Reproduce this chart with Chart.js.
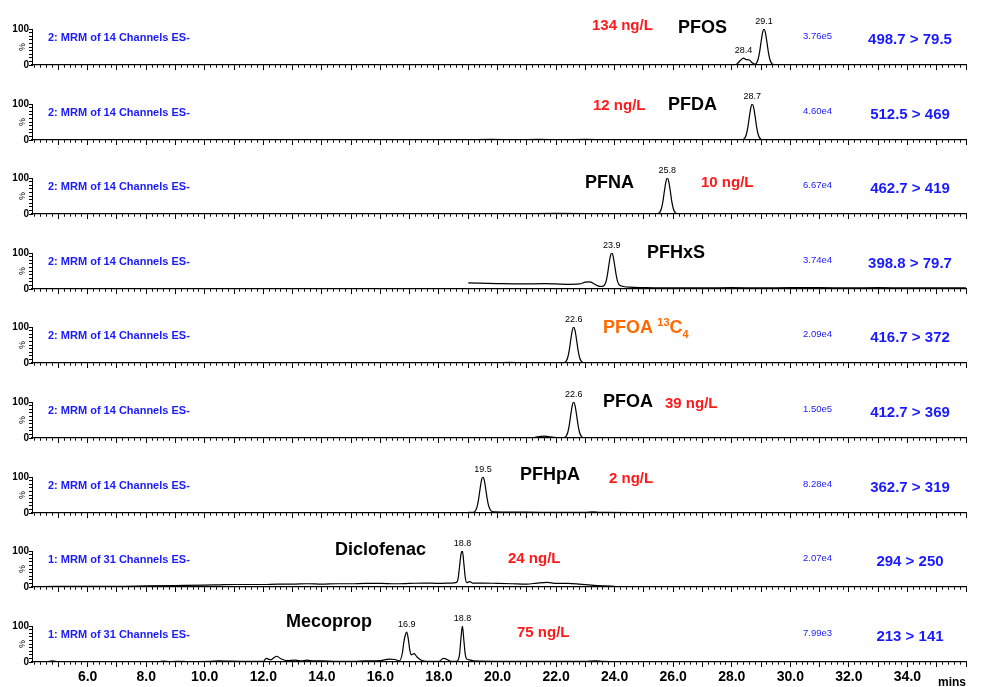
<!DOCTYPE html>
<html>
<head>
<meta charset="utf-8">
<title>MRM chromatograms</title>
<script src="https://cdn.jsdelivr.net/npm/chart.js@4.4.1/dist/chart.umd.min.js"></script>
<style>
  body { margin: 0; background: #fff; }
  #page { position: relative; width: 986px; height: 687px; overflow: hidden; font-family: "Liberation Sans", Arial, sans-serif; }
  #page canvas { position: absolute; left: 0; }
  .lbl { position: absolute; white-space: nowrap; font-weight: bold; line-height: 1; transform: translateY(-50%); }
  .chan { font-size: 11px; color: #1a1aff; }
  .cmpd { font-size: 18px; color: #000; }
  .iso { color: #ff6a00; }
  .iso sup, .iso sub { font-size: 11px; line-height: 0; }
  .conc { font-size: 15px; color: #ff1a1a; }
  .inten { font-size: 9.5px; font-weight: normal; color: #1a1aff; }
  .trans { font-size: 15px; color: #1a1aff; transform: translate(-50%, -50%); }
  .unit { font-size: 12px; color: #000; }
</style>
</head>
<body>
<div id="page"></div>
<script>
// ---- data -------------------------------------------------------------
// retention time (min) / relative signal (%) for each transition
const pfosTime   = [19.0, 28.0, 28.15, 28.25, 28.35, 28.4, 28.5, 28.6, 28.7, 28.8, 28.85, 28.9, 28.95, 29.0, 29.05, 29.1, 29.15, 29.2, 29.25, 29.3, 29.35, 29.4, 29.5, 36.0];
const pfosSignal = [0, 0, 1, 9, 17, 19, 15, 14, 6, 2, 6, 16, 36, 64, 89, 100, 89, 64, 36, 16, 6, 2, 0.5, 0];

const pfdaTime   = [19.0, 19.8, 20.6, 21.4, 22.2, 23.0, 23.6, 24.2, 28.3, 28.35, 28.4, 28.45, 28.5, 28.55, 28.6, 28.65, 28.7, 28.75, 28.8, 28.85, 28.9, 28.95, 29.0, 29.05, 29.15, 36.0];
const pfdaSignal = [1, 1.5, 1, 1.5, 1, 1.5, 1, 0.5, 0, 0.5, 2, 6, 16, 36, 64, 89, 100, 89, 64, 36, 16, 6, 2, 0.5, 0, 0];

const pfnaTime   = [19.0, 20.5, 22.0, 23.5, 24.5, 25.4, 25.45, 25.5, 25.55, 25.6, 25.65, 25.7, 25.75, 25.8, 25.85, 25.9, 25.95, 26.0, 26.05, 26.1, 26.15, 26.25, 36.0];
const pfnaSignal = [1, 1, 1.5, 1, 0.5, 0, 0.5, 2, 6, 16, 36, 64, 89, 100, 89, 64, 36, 16, 6, 2, 0.5, 0, 0];

const pfhxsTime   = [19.0, 20.0, 20.8, 21.6, 22.4, 22.8, 23.0, 23.15, 23.3, 23.45, 23.55, 23.6, 23.65, 23.7, 23.75, 23.8, 23.85, 23.9, 23.95, 24.0, 24.05, 24.1, 24.15, 24.2, 24.3, 24.5, 25.0, 26.0, 27.0, 28.0, 29.0, 30.0, 31.0, 32.0, 33.0, 34.0, 35.0, 36.0];
const pfhxsSignal = [17, 15, 14, 15, 13, 14, 19, 20, 14, 8, 7, 8, 11, 19, 38, 65, 90, 100, 90, 66, 40, 21, 12, 9, 7, 5, 4, 3, 3, 4, 3, 4, 4, 3, 4, 3, 3, 3];

const pfoaIsTime   = [19.0, 20.0, 20.4, 20.8, 22.2, 22.25, 22.3, 22.35, 22.4, 22.45, 22.5, 22.55, 22.6, 22.65, 22.7, 22.75, 22.8, 22.85, 22.9, 22.95, 23.05, 24.0, 24.3, 24.6, 36.0];
const pfoaIsSignal = [0.5, 0.5, 1.5, 0.5, 0, 0.5, 2, 6, 16, 36, 64, 89, 100, 89, 64, 36, 16, 6, 2, 0.5, 0, 0, 1, 0, 0];

const pfoaTime   = [19.0, 20.5, 21.2, 21.4, 21.6, 21.8, 22.0, 22.2, 22.25, 22.3, 22.35, 22.4, 22.45, 22.5, 22.55, 22.6, 22.65, 22.7, 22.75, 22.8, 22.85, 22.9, 22.95, 23.05, 36.0];
const pfoaSignal = [0.5, 0.5, 1, 4, 5, 3, 1, 0, 0.5, 2, 6, 16, 36, 64, 89, 100, 89, 64, 36, 16, 6, 2, 0.5, 0, 0];

const pfhpaTime   = [19.0, 19.15, 19.2, 19.25, 19.3, 19.35, 19.4, 19.45, 19.5, 19.55, 19.6, 19.65, 19.7, 19.75, 19.8, 19.9, 20.5, 21.5, 22.5, 23.0, 23.25, 23.5, 23.8, 25.0, 27.0, 36.0];
const pfhpaSignal = [2, 2, 3, 7, 17, 37, 65, 90, 100, 90, 65, 38, 19, 9, 5, 3, 2.5, 2, 2, 2, 3.5, 2, 1.5, 1, 0.5, 0];

const diclofenacTime   = [4.1, 5.0, 6.0, 7.0, 8.0, 9.0, 10.0, 10.5, 11.0, 12.0, 12.5, 13.0, 13.5, 14.0, 14.5, 15.0, 15.5, 16.0, 16.5, 17.0, 17.5, 18.0, 18.4, 18.6, 18.65, 18.7, 18.75, 18.8, 18.85, 18.9, 18.95, 19.05, 19.15, 19.5, 20.0, 20.5, 21.0, 21.35, 21.7, 22.0, 22.4, 22.8, 23.2, 23.6, 24.0];
const diclofenacSignal = [1, 1.5, 2, 2, 3, 4, 5, 6, 7, 7, 8, 8, 9, 8, 9, 9, 10, 10, 9, 10, 11, 10, 11, 13, 22, 55, 90, 100, 65, 25, 12, 15, 11, 11, 10, 9, 8, 11, 13, 10, 10, 8, 5, 3, 2];

const mecopropTime   = [4.1, 4.6, 4.8, 5.0, 6.5, 8.4, 8.6, 8.8, 9.2, 9.4, 10.2, 10.5, 10.8, 11.2, 11.6, 12.0, 12.1, 12.25, 12.45, 12.6, 12.8, 13.1, 13.3, 13.5, 13.7, 14.0, 14.5, 15.0, 15.5, 16.0, 16.3, 16.5, 16.65, 16.75, 16.8, 16.85, 16.9, 16.95, 17.0, 17.05, 17.15, 17.25, 17.4, 17.6, 18.0, 18.15, 18.25, 18.4, 18.6, 18.7, 18.75, 18.8, 18.85, 18.9, 18.95, 19.05, 19.2, 20.0, 21.0, 22.0, 23.0, 23.35, 23.6, 24.0];
const mecopropSignal = [1, 1, 3, 1, 1, 1, 2.5, 1, 2, 1, 2, 3, 2.5, 2, 2, 2, 10, 6, 16, 9, 4, 5, 3, 5, 3, 3, 2, 2, 3, 4, 8, 7, 3, 25, 55, 75, 83, 65, 35, 20, 23, 14, 5, 2, 2, 10, 8, 2, 2, 20, 65, 100, 60, 20, 8, 6, 3, 2, 1.5, 1.5, 2, 3.5, 1.5, 1];

// labelled apex times per trace
const peakTimes = [[28.4, 29.1], [28.7], [25.8], [23.9], [22.6], [22.6], [19.5], [18.8], [16.9, 18.8]];

const channels = Array(7).fill('2: MRM of 14 Channels ES-').concat(Array(2).fill('1: MRM of 31 Channels ES-'));
const compounds = ['PFOS', 'PFDA', 'PFNA', 'PFHxS', 'PFOA <sup>13</sup>C<sub>4</sub>', 'PFOA', 'PFHpA', 'Diclofenac', 'Mecoprop'];
const concentrations = ['134 ng/L', '12 ng/L', '10 ng/L', '', '', '39 ng/L', '2 ng/L', '24 ng/L', '75 ng/L'];
const intensities = ['3.76e5', '4.60e4', '6.67e4', '3.74e4', '2.09e4', '1.50e5', '8.28e4', '2.07e4', '7.99e3'];
const transitions = ['498.7 > 79.5', '512.5 > 469', '462.7 > 419', '398.8 > 79.7', '416.7 > 372', '412.7 > 369', '362.7 > 319', '294 > 250', '213 > 141'];

const xTickLabels = [6, 8, 10, 12, 14, 16, 18, 20, 22, 24, 26, 28, 30, 32, 34];
const yTickLabels = [0, 100];

// ---- layout -----------------------------------------------------------
const baselines = [65, 140, 214, 289, 363, 438, 513, 587, 662];
const compoundPos = [[678, 27], [668, 104], [585, 182], [647, 252], [603, 327], [603, 401], [520, 474], [335, 549], [286, 621]];
const concPos = [[592, 24], [593, 104], [701, 181], null, null, [665, 402], [609, 477], [508, 557], [517, 631]];

const traces = [
  [pfosTime, pfosSignal], [pfdaTime, pfdaSignal], [pfnaTime, pfnaSignal],
  [pfhxsTime, pfhxsSignal], [pfoaIsTime, pfoaIsSignal], [pfoaTime, pfoaSignal],
  [pfhpaTime, pfhpaSignal], [diclofenacTime, diclofenacSignal], [mecopropTime, mecopropSignal]
];

Chart.defaults.font.family = '"Liberation Sans", Arial, sans-serif';
Chart.defaults.color = '#000';

const page = document.getElementById('page');
const isWhole = v => Math.abs(v - Math.round(v)) < 1e-6;

// retention time written just above each labelled apex
const peakLabelPlugin = {
  id: 'peakLabels',
  afterDatasetsDraw(chart, args, opts) {
    const { ctx, scales: { x, y } } = chart;
    const pts = chart.data.datasets[0].data;
    ctx.save();
    ctx.font = '9px "Liberation Sans", Arial, sans-serif';
    ctx.fillStyle = '#000';
    ctx.textAlign = 'center';
    ctx.textBaseline = 'bottom';
    (opts.peaks || []).forEach(t => {
      const p = pts.find(d => d.x === t);
      ctx.fillText(t.toFixed(1), x.getPixelForValue(t), y.getPixelForValue(p.y) - 3);
    });
    ctx.restore();
  }
};

traces.forEach(([time, signal], i) => {
  const last = i === traces.length - 1;
  const canvas = document.createElement('canvas');
  canvas.width = 986;
  canvas.height = last ? 85 : 80;
  canvas.style.top = (baselines[i] - 60) + 'px';
  page.appendChild(canvas);

  new Chart(canvas, {
    type: 'line',
    data: {
      datasets: [{
        data: time.map((t, k) => ({ x: t, y: signal[k] })),
        borderColor: '#000',
        borderWidth: 1.2,
        pointRadius: 0,
        fill: false,
        cubicInterpolationMode: 'monotone'
      }]
    },
    options: {
      responsive: false,
      animation: false,
      layout: { padding: { top: 24, right: 20, left: 0, bottom: 0 } },
      plugins: {
        legend: { display: false },
        tooltip: { enabled: false },
        peakLabels: { peaks: peakTimes[i] }
      },
      scales: {
        x: {
          type: 'linear',
          min: 4.1,
          max: 36.0,
          afterFit: s => { s.height = last ? 25 : 20; },
          border: { display: true, color: '#000', width: 1.2 },
          grid: {
            drawOnChartArea: false,
            tickLength: 5,
            tickColor: '#000',
            tickWidth: 1,
            // minute marks full length, 0.2 min marks shorter
            tickBorderDash: c => (c.tick && isWhole(c.tick.value)) ? [] : [2.5, 20]
          },
          ticks: {
            stepSize: 0.2,
            autoSkip: false,
            includeBounds: false,
            maxRotation: 0,
            padding: 2,
            font: { size: 14, weight: 'bold' },
            callback: v => (last && xTickLabels.includes(v)) ? v.toFixed(1) : ''
          }
        },
        y: {
          min: 0,
          max: 100,
          afterFit: s => { s.width = 32; },
          border: { display: true, color: '#000', width: 1 },
          grid: { drawOnChartArea: false, tickLength: 3, tickColor: '#000', tickWidth: 1 },
          ticks: {
            stepSize: 10,
            autoSkip: false,
            padding: 0,
            font: { size: 10, weight: 'bold' },
            callback: v => yTickLabels.includes(v) ? String(v) : ''
          },
          title: { display: true, text: '%', font: { size: 9 }, padding: { top: 17, bottom: 0 } }
        }
      }
    },
    plugins: [peakLabelPlugin]
  });
});

// ---- text annotations -------------------------------------------------
function addText(cls, html, x, y) {
  const d = document.createElement('div');
  d.className = 'lbl ' + cls;
  d.innerHTML = html;
  d.style.left = x + 'px';
  d.style.top = y + 'px';
  page.appendChild(d);
}

baselines.forEach((b, i) => {
  addText('chan', channels[i], 48, b - 28);
  addText('cmpd' + (i === 4 ? ' iso' : ''), compounds[i], compoundPos[i][0], compoundPos[i][1]);
  if (concPos[i]) addText('conc', concentrations[i], concPos[i][0], concPos[i][1]);
  addText('inten', intensities[i], 803, b - 29);
  addText('trans', transitions[i].replace('>', '&gt;'), 910, b - 27);
});
addText('unit', 'mins', 938, 682);
</script>
</body>
</html>
